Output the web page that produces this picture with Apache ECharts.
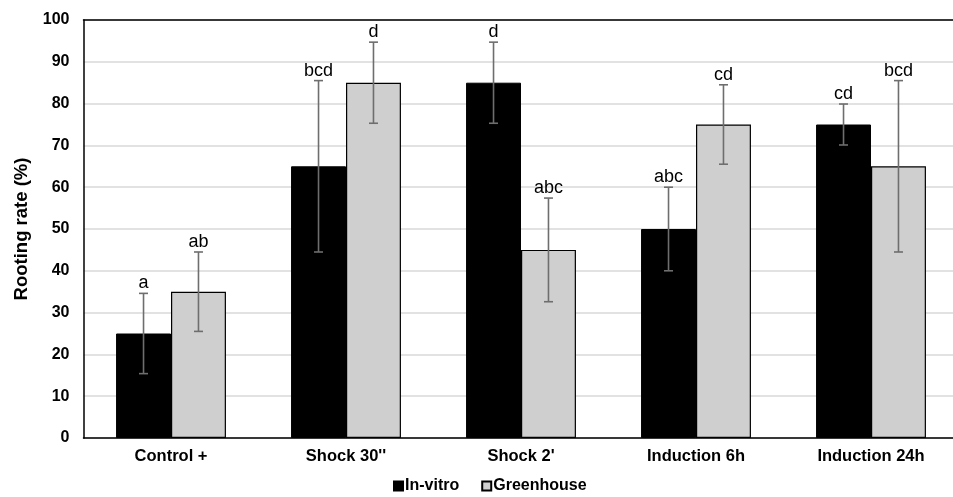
<!DOCTYPE html>
<html>
<head>
<meta charset="utf-8">
<script src="https://cdn.jsdelivr.net/npm/echarts@6/dist/echarts.min.js"></script>
<style>
  html, body { margin: 0; padding: 0; background: #fff; }
  #chart { width: 953px; height: 497px; }
</style>
</head>
<body>
<div id="chart"></div>
<script>
// data
var categories = ['Control +', "Shock 30''", "Shock 2'", 'Induction 6h', 'Induction 24h'];
var inVitro = [25, 65, 85, 50, 75];
var greenhouse = [35, 85, 45, 75, 65];
var inVitroErr = [9.6, 20.5, 9.7, 10, 4.9];
var greenhouseErr = [9.5, 9.7, 12.4, 9.5, 20.5];
var inVitroLetters = ['a', 'bcd', 'd', 'abc', 'cd'];
var greenhouseLetters = ['ab', 'd', 'abc', 'cd', 'bcd'];

var catGap = 0.372;
var font = '"Liberation Sans", Arial, Helvetica, sans-serif';

// error bar + letter drawn from value/err arrays, offset to left/right bar
function errorSeries(name, values, errs, letters, side) {
    var data = [];
    for (var i = 0; i < values.length; i++) {
        data.push([i, values[i], errs[i]]);
    }
    return {
        name: name + ' err',
        type: 'custom',
        data: data,
        z: 5,
        silent: true,
        renderItem: function (params, api) {
            var idx = api.value(0);
            var catW = api.size([1, 0])[0];
            var barW = catW * (1 - catGap) / 2;
            var dx = side * barW / 2;
            var hi = api.coord([idx, api.value(1) + api.value(2)]);
            var lo = api.coord([idx, api.value(1) - api.value(2)]);
            var x = hi[0] + dx;
            var cap = 4.5;
            var st = { stroke: '#6e6e6e', lineWidth: 1.6 };
            return {
                type: 'group',
                children: [
                    { type: 'line', shape: { x1: x, y1: hi[1], x2: x, y2: lo[1] }, style: st },
                    { type: 'line', shape: { x1: x - cap, y1: hi[1], x2: x + cap, y2: hi[1] }, style: st },
                    { type: 'line', shape: { x1: x - cap, y1: lo[1], x2: x + cap, y2: lo[1] }, style: st },
                    {
                        type: 'text',
                        style: {
                            x: x, y: hi[1] - 1,
                            text: letters[params.dataIndex],
                            fill: '#000',
                            font: '18px ' + font,
                            textAlign: 'center',
                            textVerticalAlign: 'bottom'
                        }
                    }
                ]
            };
        }
    };
}

var chart = echarts.init(document.getElementById('chart'));
var option = {
    animation: false,
    backgroundColor: '#fff',
    textStyle: { fontFamily: font },
    grid: { left: 83.5, width: 875, top: 20, bottom: 59, outerBoundsMode: 'none', containLabel: false },
    legend: {
        top: 473,
        left: 388,
        itemWidth: 9,
        itemHeight: 9,
        itemGap: 22,
        icon: 'rect',
        textStyle: { fontSize: 16, fontWeight: 'bold', color: '#000', padding: [0, 0, 0, -3] },
        data: ['In-vitro', 'Greenhouse']
    },
    xAxis: [{
        type: 'category',
        data: categories,
        axisLine: { lineStyle: { color: '#000', width: 1.5 } },
        axisTick: { show: false },
        axisLabel: { fontSize: 16.5, fontWeight: 'bold', color: '#000', margin: 10 }
    }, {
        type: 'category',
        position: 'top',
        data: categories,
        axisLine: { lineStyle: { color: '#000', width: 1.5 } },
        axisTick: { show: false },
        axisLabel: { show: false }
    }],
    yAxis: {
        type: 'value',
        min: 0,
        max: 100,
        interval: 10,
        name: 'Rooting rate (%)',
        nameLocation: 'middle',
        nameGap: 42,
        nameTextStyle: { fontSize: 18.5, fontWeight: 'bold', color: '#000' },
        axisLine: { show: true, lineStyle: { color: '#000', width: 1.5 } },
        axisTick: { show: false },
        axisLabel: { fontSize: 16, fontWeight: 'bold', color: '#000', margin: 14 },
        splitLine: { lineStyle: { color: '#d9d9d9', width: 1.5 } }
    },
    series: [
        {
            name: 'In-vitro',
            type: 'bar',
            data: inVitro,
            barGap: '0%',
            barCategoryGap: (catGap * 100) + '%',
            itemStyle: { color: '#000', borderColor: '#000', borderWidth: 1 }
        },
        {
            name: 'Greenhouse',
            type: 'bar',
            data: greenhouse,
            itemStyle: { color: '#d0cfd0', borderColor: '#000', borderWidth: 1.2 }
        },
        errorSeries('In-vitro', inVitro, inVitroErr, inVitroLetters, -1),
        errorSeries('Greenhouse', greenhouse, greenhouseErr, greenhouseLetters, 1)
    ]
};
chart.setOption(option);
</script>
</body>
</html>
